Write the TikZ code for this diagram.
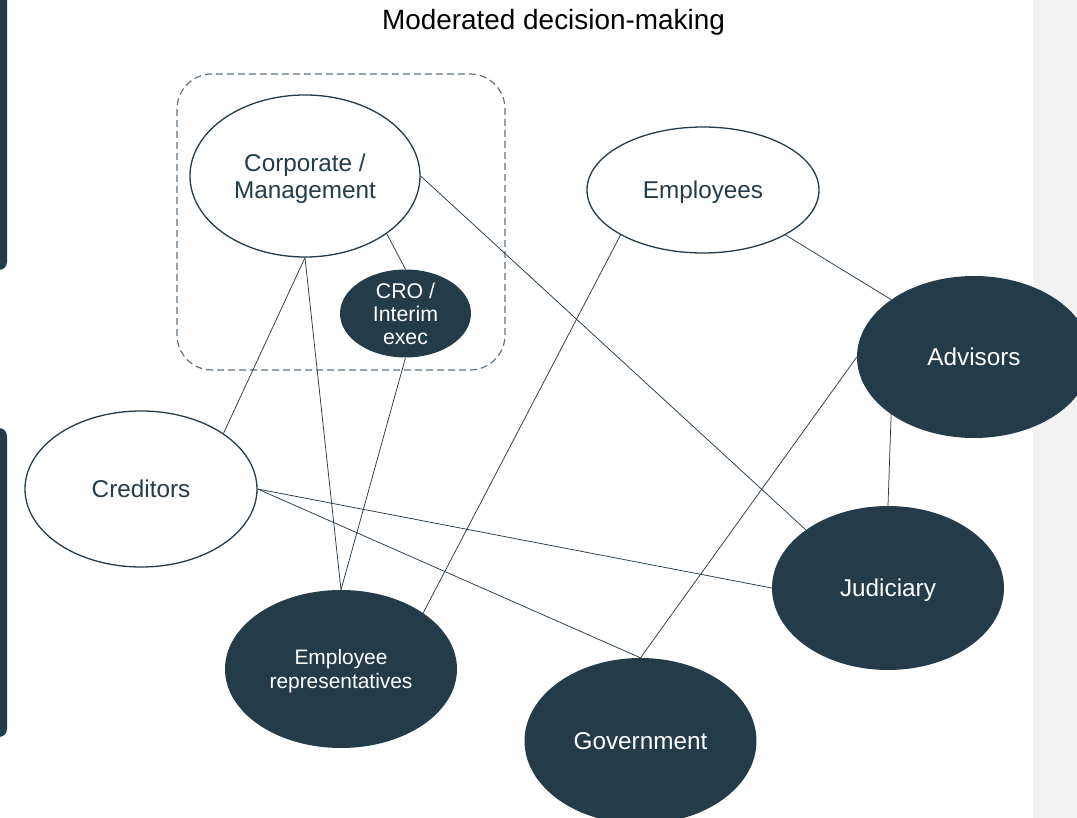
\documentclass[tikz,border=0pt]{standalone}
\usepackage{fontspec}
\setmainfont{Liberation Sans}
\usetikzlibrary{shapes.geometric}
\definecolor{dark}{HTML}{243B4A}
\definecolor{dashc}{HTML}{5F7180}
\definecolor{panel}{HTML}{F2F2F2}
\begin{document}
\begin{tikzpicture}[x=1pt,y=-1pt,
  lightnode/.style={ellipse, draw=dark, line width=1.3pt, fill=white, text=dark, inner sep=0pt, text depth=0pt, font=\fontsize{24.3}{27}\selectfont, align=center},
  darknode/.style={ellipse, fill=dark, text=white, inner sep=0pt, text depth=0pt, font=\fontsize{24.3}{27}\selectfont, align=center},
  link/.style={draw=dark, line width=0.75pt}]
\useasboundingbox (0,0) rectangle (1077,818);
\clip (0,0) rectangle (1077,818);
% background panels
\fill[panel] (1033,0) rectangle (1077,818);
\fill[dark, rounded corners=8pt] (-20,-20) rectangle (7,270);
\fill[dark, rounded corners=8pt] (-20,428) rectangle (7,737);
% group box
\draw[dashc, dash pattern=on 7pt off 4pt, line width=1.2pt, rounded corners=35pt] (177,74) rectangle (505,370);
% title
\node[anchor=base, font=\fontsize{27.9}{30}\selectfont, text=black] (title) at (553.5,29.5) {Moderated decision-making};
% nodes
\node[lightnode, minimum width=230pt, minimum height=162pt] (corp) at (305,176) {Corporate /\\Management};
\node[darknode, minimum width=131pt, minimum height=88pt,
  label={[name=crotext, text=white, align=center, text depth=0pt, font=\fontsize{21.3}{23}\selectfont]center:CRO /\\Interim\\exec}] (cro) at (405.5,313.5) {};
\node[lightnode, minimum width=232pt, minimum height=126pt] (empl) at (703,190) {Employees};
\node[darknode, minimum width=234pt, minimum height=162pt] (adv) at (974,357) {Advisors};
\node[lightnode, minimum width=232pt, minimum height=156pt] (cred) at (141,489) {Creditors};
\node[darknode, minimum width=232pt, minimum height=164pt] (jud) at (888,588) {Judiciary};
\node[darknode, minimum width=232pt, minimum height=158pt, font=\fontsize{20.9}{24}\selectfont] (emprep) at (341,669) {Employee\\representatives};
\node[darknode, minimum width=232pt, minimum height=166pt] (gov) at (640.5,741) {Government};
% connectors
\draw[link] (corp.south east) -- (cro.north);
\draw[link] (corp.east) -- (jud.north west);
\draw[link] (corp.south) -- (cred.north east);
\draw[link] (corp.south) -- (emprep.north);
\draw[link] (cro.south) -- (emprep.north);
\draw[link] (empl.south west) -- (emprep.north east);
\draw[link] (empl.south east) -- (adv.north west);
\draw[link] (adv.west) -- (gov.north);
\draw[link] (adv.south west) -- (jud.north);
\draw[link] (cred.east) -- (jud.west);
\draw[link] (cred.east) -- (gov.north);
\end{tikzpicture}
\end{document}
